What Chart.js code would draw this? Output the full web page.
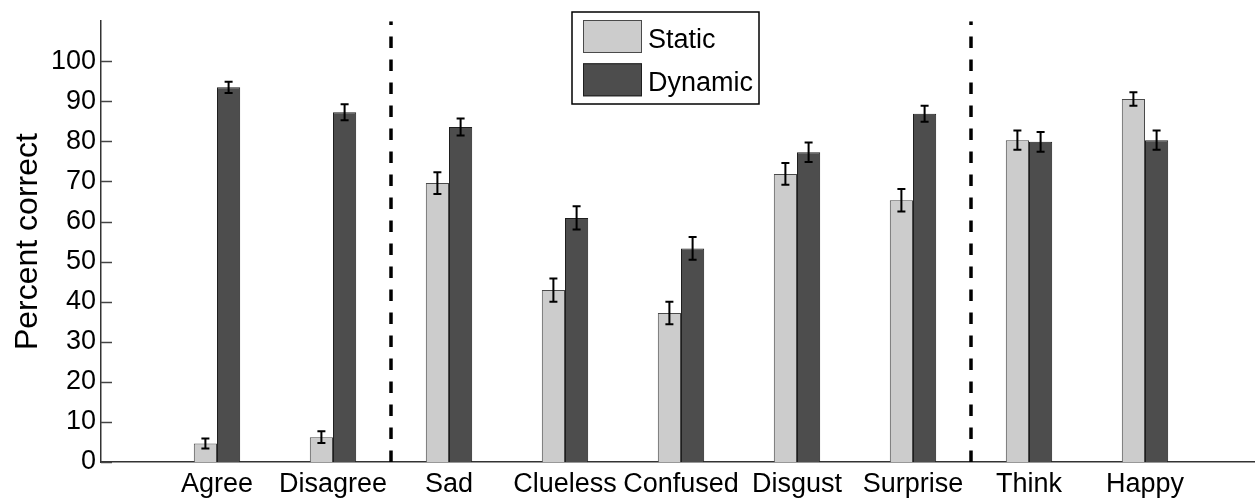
<!DOCTYPE html>
<html>
<head>
<meta charset="utf-8">
<title>Percent correct — static vs dynamic</title>
<script src="https://cdn.jsdelivr.net/npm/chart.js@4/dist/chart.umd.min.js"></script>
<style>
  html, body { margin: 0; padding: 0; overflow: hidden; background: #ffffff; }
  canvas { display: block; }
</style>
</head>
<body>
<canvas id="c" width="1262" height="498"></canvas>
<script>
// Expression categories, in display order (positions 1..9 on the x axis)
const categories = ['Agree', 'Disagree', 'Sad', 'Clueless', 'Confused', 'Disgust', 'Surprise', 'Think', 'Happy'];

// Mean percent correct and standard error per condition
const staticValues  = [4.6, 6.2, 69.6, 42.9, 37.2, 71.9, 65.3, 80.3, 90.6];
const staticErrors  = [1.25, 1.45, 2.7, 2.9, 2.8, 2.7, 2.8, 2.4, 1.7];
const dynamicValues = [93.5, 87.3, 83.6, 60.9, 53.3, 77.3, 86.9, 79.9, 80.3];
const dynamicErrors = [1.4, 2.0, 2.15, 2.9, 2.85, 2.45, 2.0, 2.45, 2.4];

// Axis ticks
const yTicks = [0, 10, 20, 30, 40, 50, 60, 70, 80, 90, 100];

// Dashed separators between the expression groups
const groupDividers = [2.5, 7.5];

const FONT = "'Liberation Sans', Arial, Helvetica, sans-serif";

function toPoints(values) {
  return values.map((v, i) => ({ x: i + 1, y: v }));
}

const dividerDatasets = groupDividers.map(xv => ({
  type: 'line',
  label: '_divider',
  data: [{ x: xv, y: 0 }, { x: xv, y: 110 }],
  borderColor: '#000000',
  borderWidth: 3.5,
  borderDash: [11.5, 11.5],
  borderCapStyle: 'butt',
  pointRadius: 0,
  fill: false,
  order: 0
}));

// Error bars drawn through the y scale at each bar's centre
const errorBarPlugin = {
  id: 'errorBars',
  afterDatasetsDraw(chart) {
    const ctx = chart.ctx;
    const yScale = chart.scales.y;
    ctx.save();
    ctx.strokeStyle = '#000000';
    ctx.lineWidth = 2;
    chart.data.datasets.forEach((ds, di) => {
      if (!ds.errors) return;
      const meta = chart.getDatasetMeta(di);
      meta.data.forEach((bar, i) => {
        const v = ds.data[i].y, e = ds.errors[i];
        const x = bar.x;
        const yTop = yScale.getPixelForValue(v + e);
        const yBot = yScale.getPixelForValue(v - e);
        const cap = 4;
        ctx.beginPath();
        ctx.moveTo(x, yTop); ctx.lineTo(x, yBot);
        ctx.moveTo(x - cap, yTop); ctx.lineTo(x + cap, yTop);
        ctx.moveTo(x - cap, yBot); ctx.lineTo(x + cap, yBot);
        ctx.stroke();
      });
    });
    ctx.restore();
  }
};

// Inward tick marks on the y axis
const inwardTicksPlugin = {
  id: 'inwardTicks',
  afterDraw(chart) {
    const ctx = chart.ctx;
    const y = chart.scales.y;
    const left = chart.chartArea.left;
    ctx.save();
    ctx.strokeStyle = '#444444';
    ctx.lineWidth = 1.5;
    yTicks.forEach(t => {
      const py = Math.round(y.getPixelForValue(t)) + 0.5;
      ctx.beginPath();
      ctx.moveTo(left, py);
      ctx.lineTo(left + 11, py);
      ctx.stroke();
    });
    ctx.restore();
  }
};

// Boxed legend with large swatches, stacked vertically
const boxLegendPlugin = {
  id: 'boxLegend',
  afterDraw(chart, args, opts) {
    const ctx = chart.ctx;
    const items = chart.data.datasets.filter(d => d.type !== 'line');
    ctx.save();
    ctx.fillStyle = '#ffffff';
    ctx.fillRect(opts.left, opts.top, opts.width, opts.height);
    ctx.strokeStyle = '#000000';
    ctx.lineWidth = 1.5;
    ctx.strokeRect(opts.left, opts.top, opts.width, opts.height);
    ctx.font = opts.fontSize + 'px ' + FONT;
    ctx.textBaseline = 'alphabetic';
    ctx.textAlign = 'left';
    items.forEach((d, i) => {
      const sy = opts.top + opts.swatchTop + i * opts.rowStep;
      const sx = opts.left + opts.swatchLeft;
      ctx.fillStyle = d.backgroundColor;
      ctx.fillRect(sx, sy, opts.swatchW, opts.swatchH);
      ctx.strokeStyle = d.borderColor;
      ctx.lineWidth = 1;
      ctx.strokeRect(sx + 0.5, sy + 0.5, opts.swatchW - 1, opts.swatchH - 1);
      ctx.fillStyle = '#000000';
      ctx.fillText(d.label, opts.left + opts.textLeft, sy + opts.textBaseline);
    });
    ctx.restore();
  }
};

new Chart(document.getElementById('c'), {
  type: 'bar',
  data: {
    datasets: [
      {
        label: 'Static',
        data: toPoints(staticValues),
        errors: staticErrors,
        backgroundColor: '#cccccc',
        borderColor: '#4a4a4a',
        borderWidth: 1,
        categoryPercentage: 0.4,
        barPercentage: 1.0,
        order: 1
      },
      {
        label: 'Dynamic',
        data: toPoints(dynamicValues),
        errors: dynamicErrors,
        backgroundColor: '#4d4d4d',
        borderColor: '#1e1e1e',
        borderWidth: 1,
        categoryPercentage: 0.4,
        barPercentage: 1.0,
        order: 1
      },
      ...dividerDatasets
    ]
  },
  options: {
    responsive: false,
    animation: false,
    events: [],
    layout: { padding: { top: 19, right: 1, left: 0, bottom: 0 } },
    plugins: {
      legend: { display: false },
      tooltip: { enabled: false },
      boxLegend: {
        left: 572, top: 12, width: 187, height: 92,
        swatchLeft: 11, swatchTop: 8, swatchW: 59, swatchH: 33,
        rowStep: 43.3, textLeft: 76, textBaseline: 27.5, fontSize: 27
      }
    },
    scales: {
      x: {
        type: 'linear',
        min: 0,
        max: 10,
        offset: false,
        grid: { display: false, drawTicks: false },
        border: { display: true, color: '#333333', width: 1.5 },
        afterBuildTicks(scale) {
          scale.ticks = categories.map((c, i) => ({ value: i + 1 }));
        },
        afterFit(scale) { scale.height = 36; },
        ticks: {
          autoSkip: false,
          maxRotation: 0,
          padding: 6,
          color: '#000000',
          font: { family: FONT, size: 27 },
          callback: (v) => categories[v - 1] || ''
        }
      },
      y: {
        min: 0,
        max: 110,
        grid: { display: false, drawTicks: false },
        border: { display: true, color: '#333333', width: 1.5 },
        afterBuildTicks(scale) {
          scale.ticks = yTicks.map(v => ({ value: v }));
        },
        afterFit(scale) { scale.width = 101; },
        ticks: {
          padding: 5,
          color: '#000000',
          font: { family: FONT, size: 27 }
        },
        title: {
          display: true,
          text: 'Percent correct',
          color: '#000000',
          font: { family: FONT, size: 32 },
          padding: { top: 9, bottom: 0 }
        }
      }
    }
  },
  plugins: [errorBarPlugin, inwardTicksPlugin, boxLegendPlugin]
});
</script>
</body>
</html>
